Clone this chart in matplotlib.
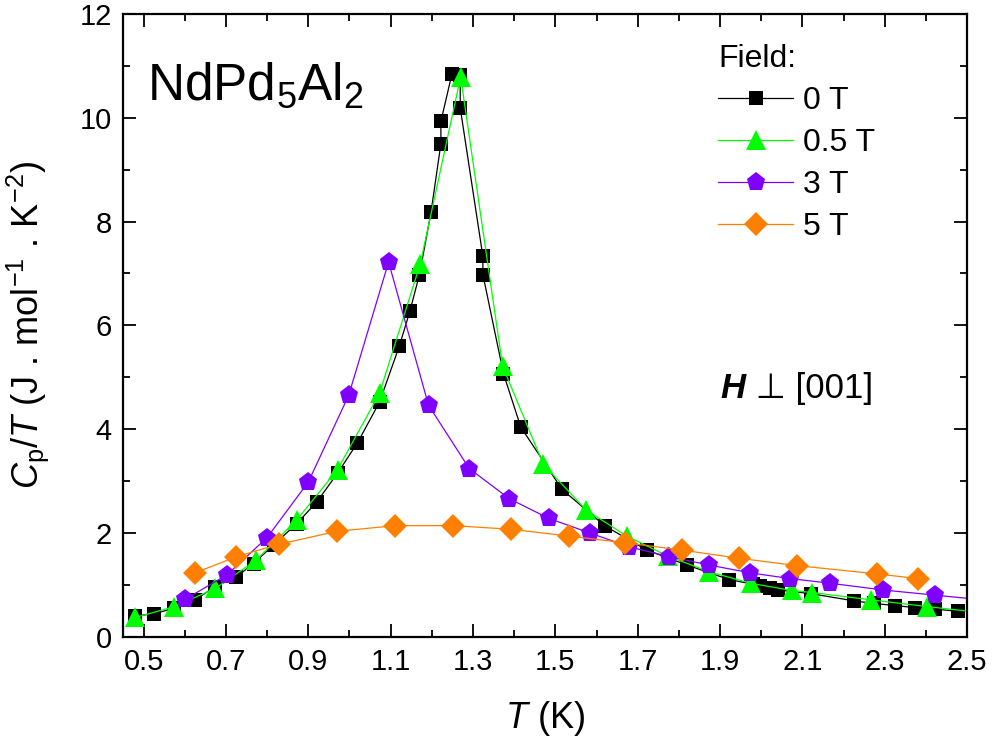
import matplotlib
matplotlib.use('Agg')
import matplotlib.pyplot as plt
from matplotlib.ticker import MultipleLocator

plt.rcParams['font.family'] = ['Liberation Sans', 'DejaVu Sans']
plt.rcParams['mathtext.fontset'] = 'custom'
plt.rcParams['mathtext.rm'] = 'Liberation Sans'
plt.rcParams['mathtext.it'] = 'Liberation Sans:italic'
plt.rcParams['mathtext.bf'] = 'Liberation Sans:bold'

# ---- C/T data per applied field ----
t_0T = [0.48, 0.525, 0.575, 0.625, 0.673, 0.725, 0.767, 0.816, 0.872, 0.921, 0.971,
        1.019, 1.073, 1.121, 1.147, 1.170, 1.198, 1.222, 1.222, 1.249, 1.269, 1.269,
        1.324, 1.324, 1.374, 1.416, 1.516, 1.621, 1.722, 1.820, 1.922, 1.981, 1.997,
        2.021, 2.041, 2.120, 2.225, 2.274, 2.325, 2.373, 2.422, 2.478]
cp_0T = [0.40, 0.44, 0.55, 0.71, 0.96, 1.15, 1.41, 1.77, 2.18, 2.60, 3.15,
         3.73, 4.52, 5.60, 6.28, 6.98, 8.18, 9.50, 9.93, 10.85, 10.83, 10.19,
         7.33, 6.98, 5.07, 4.04, 2.84, 2.13, 1.67, 1.38, 1.10, 1.01, 0.98,
         0.94, 0.90, 0.83, 0.69, 0.64, 0.60, 0.56, 0.53, 0.49]

t_05T = [0.48, 0.575, 0.674, 0.774, 0.872, 0.971, 1.073, 1.172, 1.270, 1.372, 1.471,
         1.575, 1.673, 1.774, 1.874, 1.974, 2.075, 2.124, 2.266, 2.403, 2.55]
cp_05T = [0.37, 0.58, 0.93, 1.48, 2.25, 3.22, 4.69, 7.19, 10.79, 5.21, 3.32,
          2.44, 1.94, 1.55, 1.25, 1.03, 0.89, 0.85, 0.71, 0.58, 0.45]

t_3T = [0.601, 0.702, 0.800, 0.900, 0.998, 1.095, 1.192, 1.291, 1.388, 1.484, 1.583,
        1.680, 1.777, 1.874, 1.973, 2.070, 2.167, 2.296, 2.422, 2.55]
cp_3T = [0.72, 1.19, 1.91, 2.98, 4.65, 7.22, 4.46, 3.24, 2.66, 2.28, 2.00,
         1.73, 1.54, 1.38, 1.23, 1.12, 1.03, 0.90, 0.80, 0.70]

t_5T = [0.625, 0.725, 0.828, 0.969, 1.111, 1.252, 1.392, 1.532, 1.669, 1.807, 1.947,
        2.086, 2.280, 2.381]
cp_5T = [1.23, 1.54, 1.78, 2.03, 2.14, 2.14, 2.07, 1.94, 1.81, 1.67, 1.51,
         1.37, 1.21, 1.12]

series = [
    (t_0T, cp_0T, '0 T', 'black', 's', 10.5),
    (t_05T, cp_05T, '0.5 T', '#00FF00', '^', 14),
    (t_3T, cp_3T, '3 T', '#8000FF', 'p', 14),
    (t_5T, cp_5T, '5 T', '#FF8000', 'D', 12),
]

fig = plt.figure(figsize=(9.96, 7.47), dpi=100)
ax = fig.add_axes([0.1235, 0.1477, 0.8475, 0.8335])

for t, cp, lab, col, mk, ms in series:
    ax.plot(t, cp, color=col, lw=0.9, marker=mk, ms=ms, mew=0, label=lab)

ax.set_xlim(0.45, 2.5)
ax.set_ylim(0, 12)
ax.set_xticks([0.5, 0.7, 0.9, 1.1, 1.3, 1.5, 1.7, 1.9, 2.1, 2.3, 2.5])
ax.set_xticklabels(['0.5', '0.7', '0.9', '1.1', '1.3', '1.5', '1.7', '1.9', '2.1', '2.3', '2.5'])
ax.set_xticks([0.6, 0.8, 1.0, 1.2, 1.4, 1.6, 1.8, 2.0, 2.2, 2.4], minor=True)
ax.yaxis.set_major_locator(MultipleLocator(2))
ax.yaxis.set_minor_locator(MultipleLocator(1))

ax.tick_params(which='both', direction='in', top=True, right=True, width=1.3,
               labelsize=21, pad=8)
ax.tick_params(which='major', length=9.5)
ax.tick_params(which='minor', length=5)
for sp in ax.spines.values():
    sp.set_linewidth(1.6)

ax.set_xlabel(r'$T$ (K)', fontsize=26)
ax.set_ylabel(r'$C_{\rm p}/T$ (J . mol$^{-1}$ . K$^{-2}$)', fontsize=26)
ax.xaxis.set_label_coords(0.5, -0.1)
ax.yaxis.set_label_coords(-0.085, 0.5)

ax.text(0.028, 0.862, r'NdPd$_5$Al$_2$', transform=ax.transAxes, fontsize=37,
        va='baseline', ha='left')

h = ax.text(0.708, 0.383, 'H', transform=ax.transAxes, fontsize=25,
            fontweight='bold', fontstyle='italic', va='baseline', ha='left')
ax.annotate(' \u22a5 [001]', xy=(1, 0), xycoords=h, va='bottom', ha='left',
            fontsize=25)

leg = ax.legend(loc='upper left', bbox_to_anchor=(0.705, 0.952), frameon=False,
                title='Field:', title_fontsize=23, fontsize=23, alignment='left',
                handlelength=2.35, handletextpad=0.3, labelspacing=0.38,
                borderpad=0, borderaxespad=0)

fig.savefig('out.png', dpi=100)
